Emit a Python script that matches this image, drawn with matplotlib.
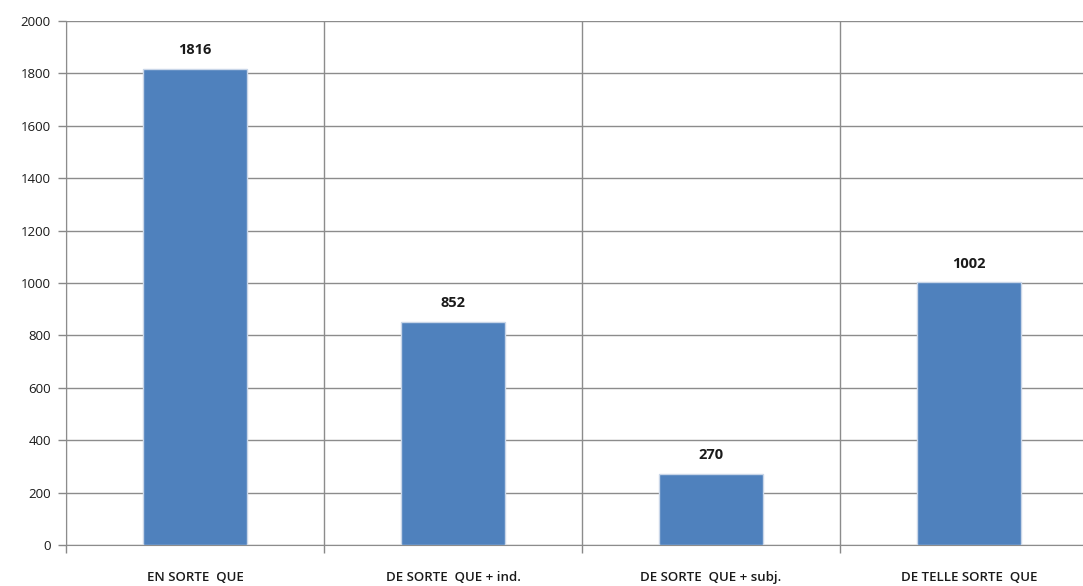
import numpy as np
import matplotlib
matplotlib.use('Agg')
from matplotlib import pyplot as plt

categories = ['EN SORTE  QUE', 'DE SORTE  QUE + ind.', 'DE SORTE  QUE + subj.', 'DE TELLE SORTE  QUE']
counts = [1816, 852, 270, 1002]
yticks = list(range(0, 2001, 200))

plt.rcParams['font.family'] = ['Open Sans', 'DejaVu Sans']

fig = plt.figure(figsize=(10.83, 5.86), dpi=100)
# axes run a little past the right edge, as in the original screenshot
ax = fig.add_axes([66/1083, 41/586, 1032/1083, 524/586])

x = np.arange(len(categories))
bars = ax.bar(x, counts, width=0.4, color='#4F81BD', edgecolor='#C9D6E8', linewidth=1.0, zorder=3)

for b, v in zip(bars, counts):
    ax.text(b.get_x() + b.get_width()/2, v + 45, str(v), ha='center', va='bottom',
            fontsize=10.5, fontweight='bold', color='#1a1a1a')

ax.set_xlim(-0.5, len(categories) - 0.5)
ax.set_ylim(0, 2000)
ax.set_yticks(yticks)
ax.set_yticklabels([str(t) for t in yticks], fontsize=9.5, color='#1a1a1a')

# vertical separators between categories
bounds = np.arange(len(categories) + 1) - 0.5
ax.set_xticks(bounds)
ax.set_xticklabels([])
ax.set_xticks(x, minor=True)
ax.set_xticklabels(categories, minor=True, fontsize=9.5, fontweight='semibold', color='#1a1a1a')
ax.tick_params(axis='x', which='minor', length=0, pad=19)
ax.tick_params(axis='x', which='major', length=6, color='#888888', width=1)
ax.tick_params(axis='y', length=6, color='#888888', width=1, pad=5)

ax.grid(True, which='major', color='#8c8c8c', linewidth=1, zorder=0)
ax.set_axisbelow(True)
for s in ['top', 'right']:
    ax.spines[s].set_visible(False)
for s in ['left', 'bottom']:
    ax.spines[s].set_color('#8c8c8c')

fig.savefig('out.png', dpi=100)
